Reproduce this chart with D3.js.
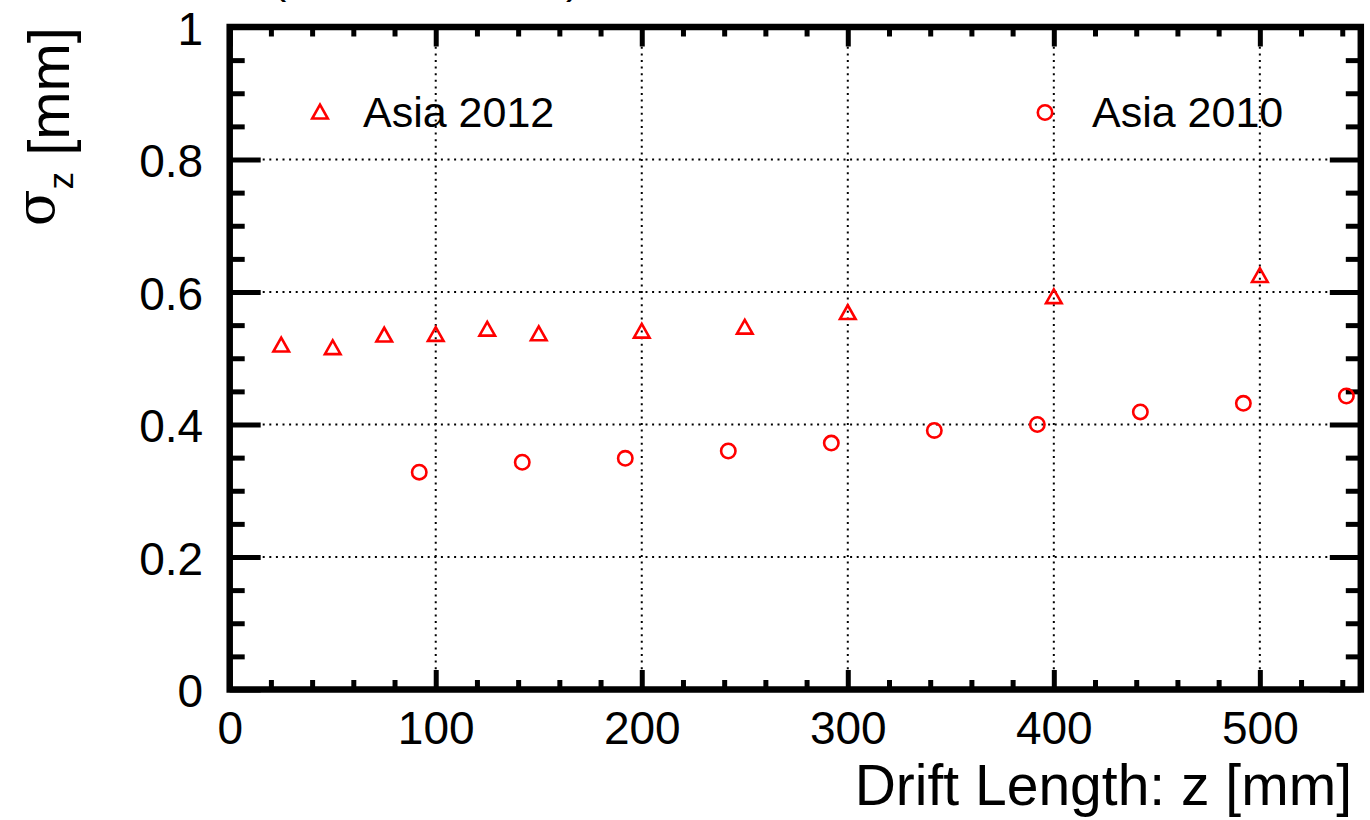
<!DOCTYPE html>
<html>
<head>
<meta charset="utf-8">
<script src="https://cdn.jsdelivr.net/npm/d3@7"></script>
<style>
  html, body { margin: 0; padding: 0; background: #fff; }
  svg { display: block; font-family: "Liberation Sans", Arial, Helvetica, sans-serif; }
</style>
</head>
<body>
<div id="chart"></div>
<script>
// drift length z [mm] and sigma_z [mm]
const z2012 = [25, 50, 75, 100, 125, 150, 200, 250, 300, 400, 500];
const sigma2012 = [0.520, 0.516, 0.535, 0.536, 0.544, 0.537, 0.541, 0.547, 0.569, 0.593, 0.625];

const z2010 = [92, 142, 192, 242, 292, 342, 392, 442, 492, 542];
const sigma2010 = [0.328, 0.343, 0.349, 0.360, 0.372, 0.391, 0.400, 0.419, 0.432, 0.443];

const seriesNames = ["Asia 2012", "Asia 2010"];
const xTicks = [0, 100, 200, 300, 400, 500];
const yTicks = [0, 0.2, 0.4, 0.6, 0.8, 1];

const width = 1370;
const height = 820;
const red = "#ff0000";

const svg = d3.select("#chart")
  .append("svg")
  .attr("width", width)
  .attr("height", height);

const x = d3.scaleLinear().domain([0, 549]).range([229.7, 1360.8]);
const y = d3.scaleLinear().domain([0, 1]).range([689.5, 27]);

// dotted grid at the major ticks
const grid = svg.append("g")
  .attr("stroke", "#000")
  .attr("stroke-width", 2)
  .attr("stroke-dasharray", "2,4.6");

grid.selectAll("line.gx")
  .data(xTicks.filter(d => d > 0))
  .enter()
  .append("line")
  .attr("x1", d => x(d)).attr("x2", d => x(d))
  .attr("y1", y(1)).attr("y2", y(0));

grid.selectAll("line.gy")
  .data(yTicks.filter(d => d > 0 && d < 1))
  .enter()
  .append("line")
  .attr("x1", x.range()[0]).attr("x2", x.range()[1])
  .attr("y1", d => y(d)).attr("y2", d => y(d));

// ticks on all four sides, ROOT style (pointing inward)
const xMinor = d3.range(0, 549, 20).filter(d => d % 100 !== 0);
const yMinor = d3.range(0, 1.0001, 0.05).filter(d => Math.abs(d * 5 - Math.round(d * 5)) > 1e-6);

function tickAxis(axis, values, size, transform) {
  const g = svg.append("g")
    .attr("transform", transform)
    .call(axis.tickValues(values).tickSize(size).tickFormat(""));
  g.select(".domain").remove();
  g.selectAll(".tick line").attr("stroke", "#000").attr("stroke-width", 5);
  return g;
}

tickAxis(d3.axisTop(x), xTicks, 19.5, `translate(0,${y(0)})`);
tickAxis(d3.axisTop(x), xMinor, 9.5, `translate(0,${y(0)})`);
tickAxis(d3.axisBottom(x), xTicks, 19.5, `translate(0,${y(1)})`);
tickAxis(d3.axisBottom(x), xMinor, 9.5, `translate(0,${y(1)})`);
tickAxis(d3.axisRight(y), yTicks, 31, `translate(${x.range()[0]},0)`);
tickAxis(d3.axisRight(y), yMinor, 15, `translate(${x.range()[0]},0)`);
tickAxis(d3.axisLeft(y), yTicks, 31, `translate(${x.range()[1]},0)`);
tickAxis(d3.axisLeft(y), yMinor, 15, `translate(${x.range()[1]},0)`);

// frame
svg.append("rect")
  .attr("x", x.range()[0])
  .attr("y", y(1))
  .attr("width", x.range()[1] - x.range()[0])
  .attr("height", y(0) - y(1))
  .attr("fill", "none")
  .attr("stroke", "#000")
  .attr("stroke-width", 6.5);

// tick labels
const xLab = svg.append("g")
  .attr("transform", `translate(0,${y(0)})`)
  .call(d3.axisBottom(x).tickValues(xTicks).tickSize(0).tickPadding(22).tickFormat(d3.format("d")));
xLab.select(".domain").remove();
xLab.selectAll("text")
  .attr("font-size", 46)
  .attr("font-family", "'Liberation Sans', Arial, sans-serif")
  .attr("fill", "#000");

const yLab = svg.append("g")
  .attr("transform", `translate(${x.range()[0]},0)`)
  .call(d3.axisLeft(y).tickValues(yTicks).tickSize(0).tickPadding(26.5).tickFormat(d3.format("~g")));
yLab.select(".domain").remove();
yLab.selectAll("text")
  .attr("font-size", 46)
  .attr("font-family", "'Liberation Sans', Arial, sans-serif")
  .attr("dy", "0.37em")
  .attr("fill", "#000");

// axis titles
svg.append("text")
  .attr("x", 1352)
  .attr("y", 805)
  .attr("text-anchor", "end")
  .attr("font-size", 57)
  .text("Drift Length: z [mm]");

const yTitle = svg.append("text")
  .attr("transform", "translate(69,27) rotate(-90)")
  .attr("text-anchor", "end")
  .attr("font-size", 58);
yTitle.append("tspan")
  .attr("font-family", "'DejaVu Serif', 'Liberation Serif', serif")
  .attr("font-size", 54)
  .attr("dy", -15)
  .text("σ");
yTitle.append("tspan")
  .attr("font-size", 35)
  .attr("dy", 19)
  .text("z");
yTitle.append("tspan")
  .attr("dy", -4)
  .text(" [mm]");

// bottoms of the cut-off title above the canvas (cut in the reference too)
svg.append("text").attr("x", 272).attr("y", -7).attr("font-size", 43).text("(");
svg.append("text").attr("x", 566).attr("y", -7).attr("font-size", 43).text(")");

// markers
const triPath = "M0,-7.3L7.8,6.5L-7.8,6.5Z";

function drawTriangles(g, xs, ys) {
  g.selectAll("path")
    .data(xs.map((d, i) => [d, ys[i]]))
    .enter()
    .append("path")
    .attr("d", triPath)
    .attr("transform", d => `translate(${x(d[0])},${y(d[1])})`)
    .attr("fill", "none")
    .attr("stroke", red)
    .attr("stroke-width", 2.6);
}

function drawCircles(g, xs, ys) {
  g.selectAll("circle")
    .data(xs.map((d, i) => [d, ys[i]]))
    .enter()
    .append("circle")
    .attr("cx", d => x(d[0]))
    .attr("cy", d => y(d[1]))
    .attr("r", 7.2)
    .attr("fill", "none")
    .attr("stroke", red)
    .attr("stroke-width", 2.6);
}

drawTriangles(svg.append("g"), z2012, sigma2012);
drawCircles(svg.append("g"), z2010, sigma2010);

// legends
const leg1 = svg.append("g");
leg1.append("path")
  .attr("d", triPath)
  .attr("transform", "translate(320,112)")
  .attr("fill", "none")
  .attr("stroke", red)
  .attr("stroke-width", 2.6);
leg1.append("text")
  .attr("x", 363).attr("y", 127)
  .attr("font-size", 43)
  .text(seriesNames[0]);

const leg2 = svg.append("g");
leg2.append("circle")
  .attr("cx", 1045).attr("cy", 112.5).attr("r", 7.2)
  .attr("fill", "none")
  .attr("stroke", red)
  .attr("stroke-width", 2.6);
leg2.append("text")
  .attr("x", 1092).attr("y", 127)
  .attr("font-size", 43)
  .text(seriesNames[1]);
</script>
</body>
</html>
